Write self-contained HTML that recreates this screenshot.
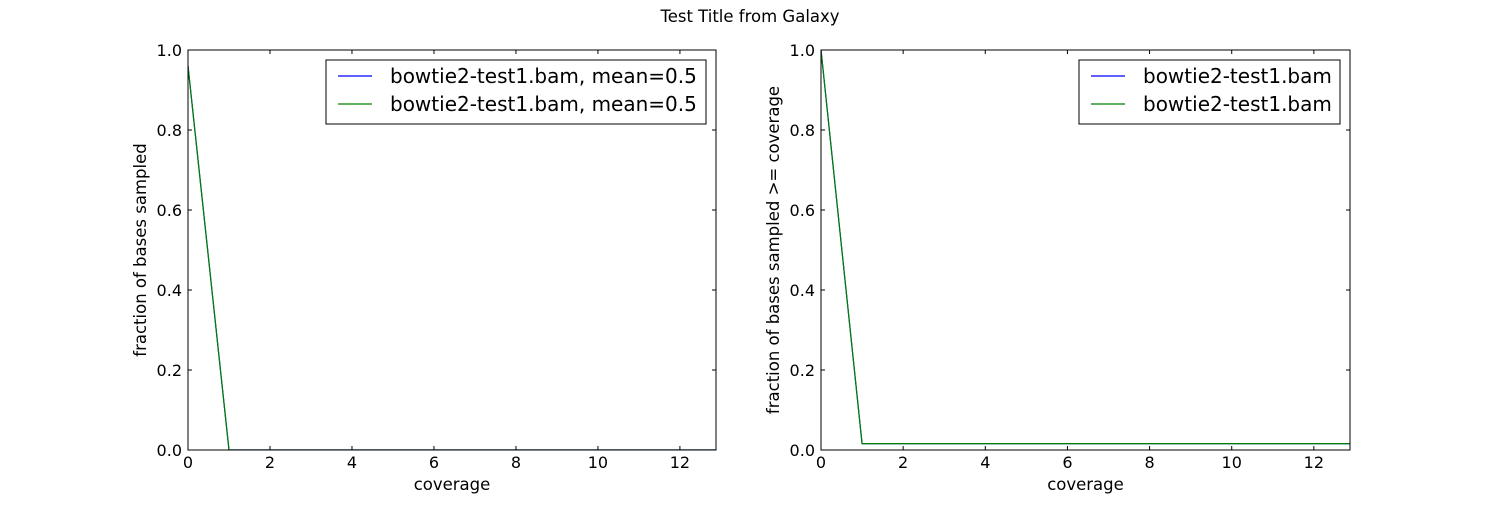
<!DOCTYPE html>
<html><head><meta charset="utf-8"><style>
body{margin:0;background:#fff;}
svg text{font-family:"DejaVu Sans","Liberation Sans",sans-serif;}
</style></head><body>
<svg id="chart" width="1500" height="500" xmlns="http://www.w3.org/2000/svg">
<rect width="1500" height="500" fill="#fff"/>
<text x="750" y="22" font-size="16.5" text-anchor="middle">Test Title from Galaxy</text>
</svg>
<script>
const xValues = [0,1,2,3,4,5,6,7,8,9,10,11,12,13];
const leftSeriesA = [0.96,0,0,0,0,0,0,0,0,0,0,0,0,0];
const leftSeriesB = [0.96,0,0,0,0,0,0,0,0,0,0,0,0,0];
const rightSeriesA = [1.0,0.016,0.016,0.016,0.016,0.016,0.016,0.016,0.016,0.016,0.016,0.016,0.016,0.016];
const rightSeriesB = [1.0,0.016,0.016,0.016,0.016,0.016,0.016,0.016,0.016,0.016,0.016,0.016,0.016,0.016];
const xTicks = [0,2,4,6,8,10,12];
const yTicks = [0.0,0.2,0.4,0.6,0.8,1.0];
const leftLegend = ["bowtie2-test1.bam, mean=0.5","bowtie2-test1.bam, mean=0.5"];
const rightLegend = ["bowtie2-test1.bam","bowtie2-test1.bam"];

const NS="http://www.w3.org/2000/svg";
const svg=document.getElementById('chart');
function mk(tag,attrs,parent){const e=document.createElementNS(NS,tag);for(const k in attrs)e.setAttribute(k,attrs[k]);(parent||svg).appendChild(e);return e;}

function panel(x0,x1,name,yTitle,sA,sB,legend,legW){
  const y0=450,y1=50,xmax=12.88;
  const sx=v=>x0+(v/xmax)*(x1-x0);
  const sy=v=>y0-(v)*(y0-y1);
  const g=mk('g',{});
  
  
  const clipId=name+'-clip';
  const cp=mk('clipPath',{id:clipId},g);
  mk('rect',{x:x0,y:y1,width:x1-x0,height:y0-y1},cp);
  const series=[[sA,'#0000ff','series-a'],[sB,'#008000','series-b']];
  series.forEach(([s,c,n])=>{
    const p=mk('polyline',{points:xValues.map((v,i)=>sx(v)+','+sy(s[i])).join(' '),fill:'none',stroke:c,'stroke-width':1.2,'clip-path':'url(#'+clipId+')'},g);
    
    
  });
  xTicks.forEach(t=>{
    const X=sx(t);
    mk('line',{x1:X,x2:X,y1:y0,y2:y0-4,stroke:'#000'},g);
    mk('line',{x1:X,x2:X,y1:y1,y2:y1+4,stroke:'#000'},g);
    const tx=mk('text',{x:X,y:y0+18,'font-size':16,'text-anchor':'middle'},g);
    tx.textContent=t;
    
    
  });
  yTicks.forEach(t=>{
    const Y=sy(t);
    mk('line',{x1:x0,x2:x0+4,y1:Y,y2:Y,stroke:'#000'},g);
    mk('line',{x1:x1,x2:x1-4,y1:Y,y2:Y,stroke:'#000'},g);
    const tx=mk('text',{x:x0-6,y:Y+6,'font-size':16,'text-anchor':'end'},g);
    tx.textContent=t.toFixed(1);
    
    
  });
  const fr=mk('rect',{x:x0,y:y1,width:x1-x0,height:y0-y1,fill:'none',stroke:'#000','stroke-width':1},g);
  
  
  const xt=mk('text',{x:(x0+x1)/2,y:490,'font-size':16.5,'text-anchor':'middle'},g);
  xt.textContent='coverage';
  
  
  const yx=x0-42;
  const yt=mk('text',{x:yx,y:250,'font-size':16.5,'text-anchor':'middle',transform:'rotate(-90 '+yx+' 250)'},g);
  yt.textContent=yTitle;
  
  
  const lg=mk('g',{},g);
  
  
  const lx=x1-10-legW;
  mk('rect',{x:lx,y:60,width:legW,height:64,fill:'#fff',stroke:'#000'},lg);
  legend.forEach((l,i)=>{
    const Y=76+i*28;
    mk('line',{x1:lx+12,x2:lx+46,y1:Y,y2:Y,stroke:i?'#008000':'#0000ff','stroke-width':1.2},lg);
    const t=mk('text',{x:lx+64,y:Y+7,'font-size':20},lg);
    t.textContent=l;
    
    
  });
}
panel(188,716,'left-panel','fraction of bases sampled',leftSeriesA,leftSeriesB,leftLegend,380);
panel(821,1350,'right-panel','fraction of bases sampled >= coverage',rightSeriesA,rightSeriesB,rightLegend,261);
</script>
</body></html>
